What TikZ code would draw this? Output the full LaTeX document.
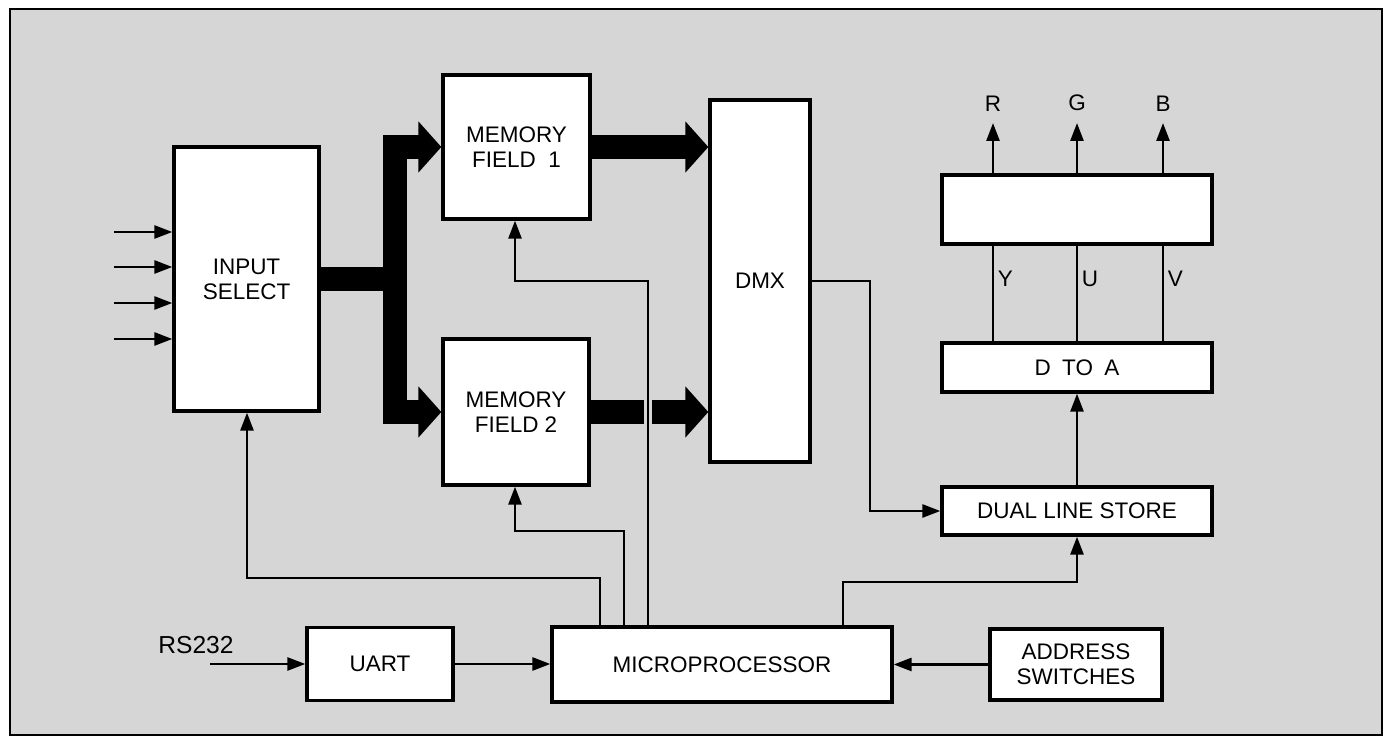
\documentclass[tikz,border=0pt]{standalone}
\usepackage{fontspec}
\setmainfont{Liberation Sans}
\usetikzlibrary{arrows.meta}
\definecolor{screen}{gray}{0.84}

\begin{document}
\begin{tikzpicture}[x=0.02cm, y=-0.02cm, font=\fontsize{12.8}{14.2}\selectfont,
  box/.style={draw, line width=1.9pt, fill=white, align=center, inner sep=0pt},
  bus/.style={line width=0.48cm, line join=miter},
  busarrow/.style={bus, -{Triangle[length=0.46cm, width=1cm]}},
  conn/.style={line width=1.5pt, -{Triangle[length=0.36cm, width=0.26cm]}},
  wire/.style={line width=1.5pt},
  gap/.style={draw=screen, line width=0.15cm},
  lbl/.style={inner sep=2pt}]
  \useasboundingbox (0,0) rectangle (1390,742);
  \draw[line width=1pt, fill=screen] (10,9) rectangle (1382,735);
  \node[box, minimum width=2.9cm, minimum height=5.28cm] (insel) at (246.5,279) {INPUT\\SELECT};
  \node[box, minimum width=2.94cm, minimum height=2.88cm] (mfa) at (516.5,147) {MEMORY\\FIELD\ \ 1};
  \node[box, minimum width=2.92cm, minimum height=2.92cm] (mfb) at (516,412) {MEMORY\\FIELD\ 2};
  \node[box, minimum width=2cm, minimum height=7.24cm] (dmx) at (760,281) {DMX};
  \node[box, minimum width=5.4cm, minimum height=1.38cm] (mat) at (1077,209.5) {};
  \node[box, minimum width=5.4cm, minimum height=0.98cm] (dac) at (1077,367.5) {D\enspace TO\enspace A};
  \node[box, minimum width=5.4cm, minimum height=0.96cm] (dls) at (1077,511) {DUAL\ LINE\ STORE};
  \node[box, minimum width=2.92cm, minimum height=1.46cm] (uart) at (380,664) {UART};
  \node[box, minimum width=6.8cm, minimum height=1.5cm] (mpu) at (722,664.5) {MICROPROCESSOR};
  \node[box, minimum width=3.44cm, minimum height=1.42cm] (addr) at (1076,664.5) {ADDRESS\\SWITCHES};
  \node[lbl, font=\fontsize{14}{16}\selectfont] (rs) at (196,645) {RS232};
  \coordinate (rsin) at (210,664);

  \draw[bus] (insel.east) -- (394.5,279);
  \draw[busarrow] (394.5,279) |- (mfa.west);
  \draw[busarrow] (394.5,279) |- (mfb.west);
  \draw[busarrow] (mfa.east) -- (dmx.west |- mfa.east);
  \draw[busarrow] (mfb.east) -- (dmx.west |- mfb.east);
  \draw[gap] (648,386) -- (648,438);

  \foreach \y [count=\i] in {232,267,303,339} {
    \coordinate (src\i) at (114,\y);
    \draw[conn] (src\i) -- (src\i -| insel.west);
  }
  \draw[conn] (rsin) -- (uart.west);
  \draw[conn] (uart.east) -- (uart.east -| mpu.west);
  \draw[conn] (addr.west) -- (addr.west -| mpu.east);
  \draw[conn] (600,0 |- mpu.north) -- (600,578) -| (247,0 |- insel.south);
  \draw[conn] (624,0 |- mpu.north) -- (624,531) -| (515,0 |- mfb.south);
  \draw[conn] (648,0 |- mpu.north) -- (648,281) -| (515,0 |- mfa.south);
  \draw[conn] (843,0 |- mpu.north) -- (843,582) -| (dls.south);
  \draw[conn] (dmx.east) -- (870,281) |- (dls.west);
  \draw[conn] (dls.north) -- (dac.south);
  \foreach \x/\s in {993/Y,1077/U,1163/V}
    \draw[wire] (\x,0 |- dac.north) -- (\x,0 |- mat.south) node[lbl, pos=0.65, right] (lbl\s) {\s};
  \foreach \x/\s in {993/R,1077/G,1163/B}
    \draw[conn] (\x,0 |- mat.north) -- (\x,123) node[lbl, above, inner sep=6pt] (lbl\s) {\s};
\end{tikzpicture}
\end{document}
